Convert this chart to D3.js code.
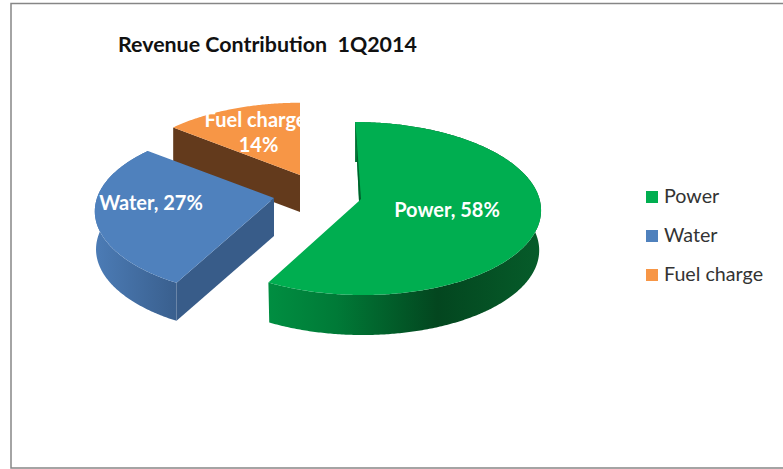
<!DOCTYPE html>
<html><head><meta charset="utf-8">
<script src="https://cdn.jsdelivr.net/npm/d3@7"></script>
<style>html,body{margin:0;padding:0;background:#fff}svg{display:block}text{font-family:Lato,"Open Sans",sans-serif;white-space:pre}</style>
</head><body><svg id="c" width="783" height="469"></svg>
<script>
const categories = ["Power", "Water", "Fuel charge"];
const shares = [58.02, 27.49, 14.49];
const topColors = ["#00ae50", "#4f81bd", "#f79646"];
const faceColors = ["#00602c", "#385c89", "#633a1c"];
const chartTitle = "Revenue Contribution  1Q2014";

// Layout of each exploded slice on the tilted plane
const views = [
  {x:359, y:201, rx:181, ry:86.5, p:.087, skew:45, depth:40, taper:.99},
  {x:274, y:198, rx:177, ry:85,   p:.16,  skew:0,  depth:38, taper:.985},
  {x:300, y:175, rx:178, ry:86,   p:.16,  skew:0,  depth:37, taper:1}
];
const svg = d3.select("#c");
const defs = svg.append("defs");
const grad = (id, x1, x2, stops) => {
  const g = defs.append("linearGradient").attr("id", id).attr("gradientUnits","userSpaceOnUse")
    .attr("x1",x1).attr("x2",x2).attr("y1",0).attr("y2",0);
  stops.forEach(([o,c]) => g.append("stop").attr("offset",o).attr("stop-color",c));
};
grad("wall0", 268, 541, [[0,"#008e41"],[.25,"#007a37"],[.62,"#03461f"],[1,"#065c2a"]]);
grad("wall1", 94, 174, [[0,"#4c7cb6"],[1,"#3a608f"]]);

svg.append("rect").attr("x",11).attr("y",3.5).attr("width",800).attr("height",464.5)
  .attr("fill","#fff").attr("stroke","#868686").attr("stroke-width",1.5);

svg.append("text").attr("x",118).attr("y",52).attr("font-size",21.4).attr("font-weight",700)
  .attr("fill","#111").text(chartTitle);

const arcs = d3.pie().sort(null)(shares);
const project = (v, t) => {
  const s = 1 - v.p * Math.cos(t);
  return [v.x + v.rx * Math.sin(t) * s + v.skew * (s - 1), v.y - v.ry * Math.cos(t) * s];
};
const line = d3.line();
const sweep = (a, b) => d3.range(a, b, .01).concat([b]);
const off = (pt, dy) => [pt[0], pt[1] + dy];

// back to front: fuel, water, power
[2, 1, 0].forEach(i => {
  const v = views[i], a = arcs[i], g = svg.append("g");
  const rim = sweep(a.startAngle, a.endAngle).map(t => project(v, t));
  const apex = [v.x, v.y];
  if (i !== 2) {
    const anchor = rim[0][0];
    const lower = rim.slice().reverse().map(p => [anchor + (p[0] - anchor) * v.taper, p[1] + v.depth]);
    g.append("path").attr("fill", `url(#wall${i})`).attr("d", line(rim.concat(lower)) + "Z");
  }
  if (i !== 0) {
    const c = rim[0];
    g.append("path").attr("fill", faceColors[i])
      .attr("d", line([c, apex, off(apex, v.depth), off(c, v.depth)]) + "Z");
  }
  g.append("path").attr("fill", topColors[i]).attr("d", line([apex].concat(rim)) + "Z");
  if (i === 0) {
    g.append("path").attr("fill", faceColors[0])
      .attr("d", line([rim[0], apex, [apex[0] + 2, apex[1] - 2], [rim[0][0] + 1, rim[0][1] + 10]]) + "Z");
  }
});

// data labels
const pct = d3.format(".0f");
const labelAt = [
  {x:447, y:217, lines:[`${categories[0]}, ${pct(shares[0])}%`]},
  {x:151, y:210, lines:[`${categories[1]}, ${pct(shares[1])}%`]},
  {x:255.5, y:127, lines:[categories[2], `${pct(shares[2])}%`]}
];
labelAt.forEach(l => l.lines.forEach((s, k) => {
  svg.append("text").attr("x", l.x + (k ? 3 : 0)).attr("y", l.y + k * 25).attr("text-anchor","middle")
    .attr("font-size",20).attr("font-weight",700).attr("fill","#fff").text(s);
}));

// legend
const ly = d3.scalePoint().domain(categories).range([197, 275]);
categories.forEach((c, i) => {
  svg.append("rect").attr("x",646).attr("y",ly(c)-6).attr("width",12).attr("height",12).attr("fill",topColors[i]);
  svg.append("text").attr("x",664).attr("y",ly(c)+6).attr("font-size",19.7).attr("fill","#333").text(c);
});
</script></body></html>
